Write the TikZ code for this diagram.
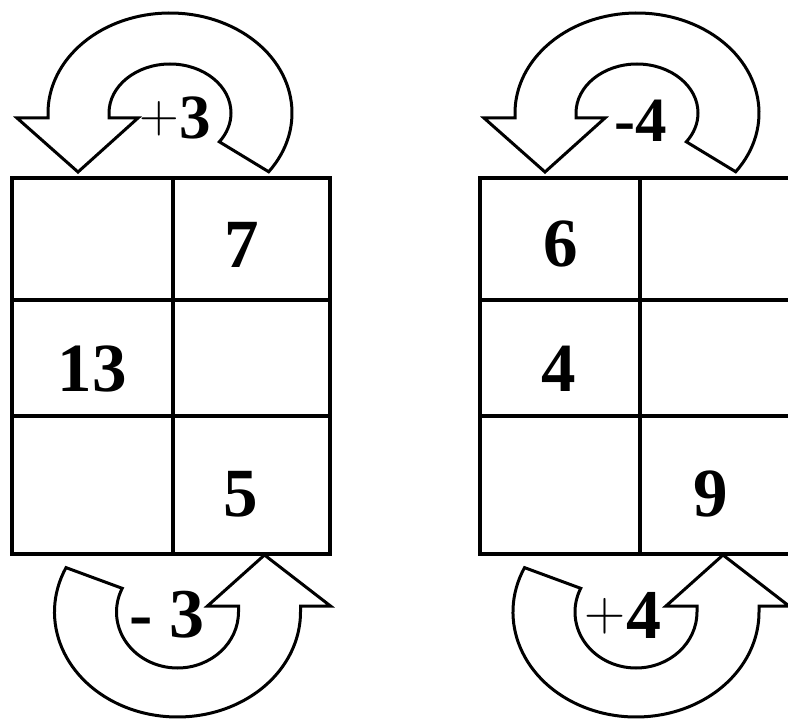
\documentclass[tikz,border=0pt]{standalone}
\usepackage{graphicx}
\usepackage{fontspec}
\setmainfont{Liberation Serif}
\newcommand{\bigplus}[2]{\raisebox{#2}{\fontfamily{lmr}\fontseries{m}\fontsize{#1}{#1}\selectfont +}}
\begin{document}
\begin{tikzpicture}[x=1pt,y=1pt,yscale=-1,
  gridline/.style={line width=4.2pt, line cap=rect},
  turnarrow/.style={draw=black, fill=white, line width=3pt, line join=miter},
  cellnum/.style={font=\fontsize{69}{70}\selectfont\bfseries, inner sep=0pt, anchor=base},
  toplabel/.style={font=\fontsize{63}{65}\selectfont, inner sep=0pt, anchor=base},
  botlabel/.style={font=\fontsize{70}{72}\selectfont, inner sep=0pt, anchor=base}]

\useasboundingbox (0,0) rectangle (788,719);
\clip (0,0) rectangle (788,719);

% left grid
\draw[gridline] (12,178) rectangle (330,554);
\draw[gridline] (173,178) -- (173,554);
\draw[gridline] (12,300) -- (330,300);
\draw[gridline] (12,416) -- (330,416);
% right grid
\draw[gridline] (480,178) rectangle (802,554);
\draw[gridline] (640,178) -- (640,554);
\draw[gridline] (480,300) -- (802,300);
\draw[gridline] (480,416) -- (802,416);

% top arrows
\foreach \cx in {170,637} {
 \draw[turnarrow] ({\cx+122*cos(36)},{113+100*sin(36)})
   arc[start angle=36,end angle=-180,x radius=122,y radius=100]
   -- ({\cx-122},118) -- ({\cx-153},118) -- ({\cx-92},172) -- ({\cx-32},118)
   -- ({\cx-61},118) -- ({\cx-61},113)
   arc[start angle=180,end angle=396,x radius=61,y radius=49] -- cycle;
}
% bottom arrows
\foreach \cx in {177.5,636} {
 \draw[turnarrow] ({\cx+123*cos(205)},{612+105*sin(205)})
   arc[start angle=205,end angle=0,x radius=123,y radius=105]
   -- ({\cx+123},606) -- ({\cx+153},606) -- ({\cx+87},555) -- ({\cx+30},606)
   -- ({\cx+61},606) -- ({\cx+61},612)
   arc[start angle=0,end angle=205,x radius=61,y radius=56] -- cycle;
}

% grid numbers
\node[cellnum] (n7) at (242,268) {7};
\node[cellnum] (n13) at (92,392) {13};
\node[cellnum] (n5) at (241,516) {5};
\node[cellnum] (n6) at (561,267) {6};
\node[cellnum] (n4) at (559,392) {4};
\node[cellnum] (n9) at (711,516) {9};

% operation labels
\node[toplabel] (lp3) at (175,139) {\bigplus{55}{6.6pt}\textbf{3}};
\node[toplabel] (lm4) at (641,142) {\textbf{-4}};
\node[botlabel] (lm3) at (167,637) {\textbf{- 3}};
\node[botlabel] (lp4) at (623,638) {\bigplus{57}{7.5pt}\textbf{4}};
\end{tikzpicture}
\end{document}
